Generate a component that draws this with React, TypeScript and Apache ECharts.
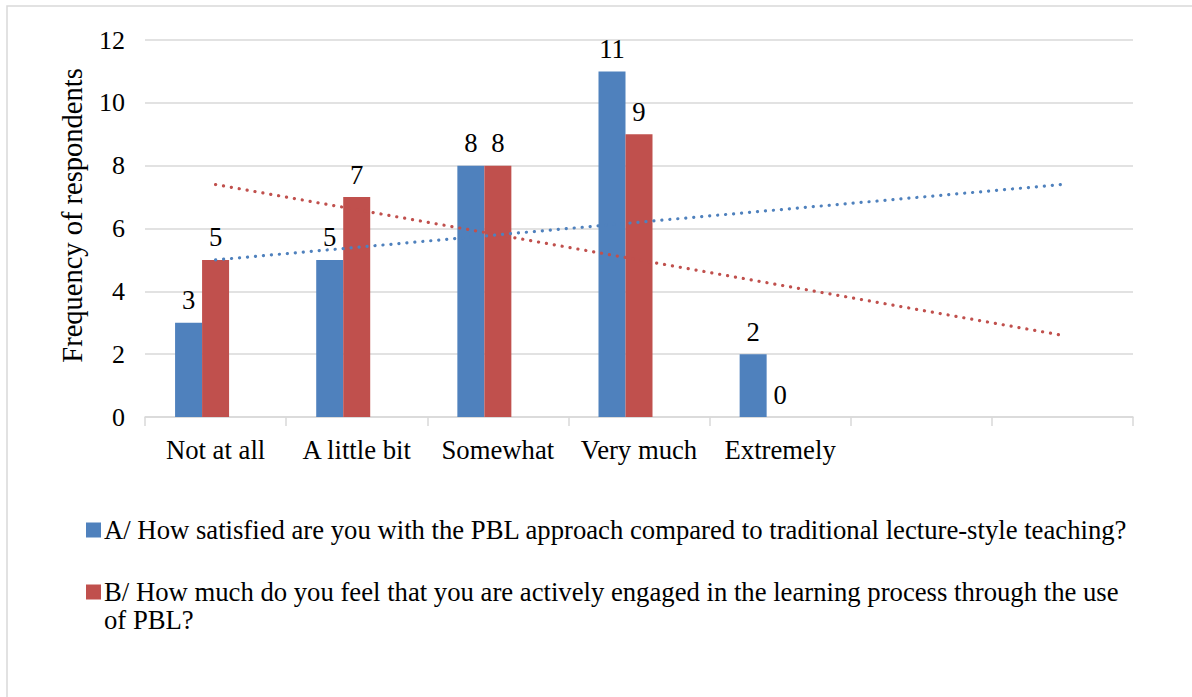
import React, { useEffect, useRef } from "react";
import * as echarts from "echarts";

const categories = ["Not at all", "A little bit", "Somewhat", "Very much", "Extremely", "", ""];
const seriesAValues = [3, 5, 8, 11, 2];
const seriesBValues = [5, 7, 8, 9, 0];
const seriesNames = [
  "A/ How satisfied are you with the PBL approach compared to traditional lecture-style teaching?",
  "B/ How much do you feel that you are actively engaged in the learning process through the use of PBL?",
];
// legend lines as wrapped in the reference
const legendLines = [
  ["A/ How satisfied are you with the PBL approach compared to traditional lecture-style teaching?"],
  ["B/ How much do you feel that you are actively engaged in the learning process through the use", "of PBL?"],
];
const yAxisTitle = "Frequency of respondents";
const yMin = 0;
const yMax = 12;
const yInterval = 2;

const BLUE = "#4F81BD";
const RED = "#C0504D";
const GRID = "#D9D9D9";
const FONT = "Liberation Serif";
const FS = 26.7;

// Excel-style linear trendline (least squares over x = 1..n), extended across all categories
function linearTrend(values: number[], length: number): number[] {
  const n = values.length;
  const xs = values.map((_, i) => i + 1);
  const mx = xs.reduce((a, b) => a + b, 0) / n;
  const my = values.reduce((a, b) => a + b, 0) / n;
  let num = 0;
  let den = 0;
  for (let i = 0; i < n; i++) {
    num += (xs[i] - mx) * (values[i] - my);
    den += (xs[i] - mx) * (xs[i] - mx);
  }
  const slope = num / den;
  const out: number[] = [];
  for (let i = 0; i < length; i++) out.push(+(my + slope * (i + 1 - mx)).toFixed(4));
  return out;
}

export default function App() {
  const ref = useRef<HTMLDivElement>(null);
  useEffect(() => {
    if (!ref.current) return;
    const chart = echarts.init(ref.current, undefined, { renderer: "svg" });
    const labelStyle = {
      show: true,
      position: "top" as const,
      distance: 9,
      color: "#000",
      fontFamily: FONT,
      fontSize: FS,
    };
    const dotted = (color: string) => ({
      color,
      width: 3.2,
      type: [0.1, 7.9],
      cap: "round" as const,
    });
    const legendColors = [BLUE, RED];
    const legendRowCenters = [530, 592];
    const legendLineHeight = 28;
    const legendGraphics: any[] = [];
    legendLines.forEach((lines, i) => {
      legendGraphics.push({
        type: "rect",
        silent: true,
        shape: { x: 86, y: legendRowCenters[i] - 7.5, width: 15, height: 15 },
        style: { fill: legendColors[i] },
      });
      lines.forEach((line, j) => {
        legendGraphics.push({
          type: "text",
          silent: true,
          x: 104,
          y: legendRowCenters[i] + j * legendLineHeight,
          style: {
            text: line,
            fill: "#000",
            font: `${FS}px "${FONT}", serif`,
            verticalAlign: "middle",
            align: "left",
          },
        });
      });
    });
    chart.setOption({
      animation: false,
      backgroundColor: "#fff",
      textStyle: { fontFamily: FONT },
      graphic: [
        {
          type: "rect",
          silent: true,
          z: -10,
          shape: { x: 7, y: 6, width: 1220, height: 720 },
          style: { fill: "none", stroke: GRID, lineWidth: 1.5 },
        },
        ...legendGraphics,
      ],
      grid: { left: 145, right: 59, top: 40, bottom: 280, containLabel: false },
      xAxis: {
        type: "category",
        data: categories,
        boundaryGap: true,
        axisLine: { show: true, lineStyle: { color: GRID, width: 1.5 } },
        axisTick: { show: true, length: 9, lineStyle: { color: GRID, width: 1.5 } },
        axisLabel: {
          color: "#000",
          fontFamily: FONT,
          fontSize: FS,
          margin: 19,
          interval: 0,
        },
      },
      yAxis: {
        type: "value",
        min: yMin,
        max: yMax,
        interval: yInterval,
        name: yAxisTitle,
        nameLocation: "middle",
        nameGap: 58,
        nameRotate: 90,
        nameTextStyle: {
          color: "#000",
          fontFamily: FONT,
          fontSize: 28.5,
          padding: [0, 0, 0, 26],
        },
        axisLine: { show: false },
        axisTick: { show: false },
        axisLabel: { color: "#000", fontFamily: FONT, fontSize: 26, margin: 20 },
        splitLine: { lineStyle: { color: GRID, width: 1.5 } },
      },
      series: [
        {
          name: seriesNames[0],
          type: "bar",
          data: seriesAValues,
          barWidth: 27,
          barGap: "0%",
          itemStyle: { color: BLUE },
          label: labelStyle,
          silent: true,
        },
        {
          name: seriesNames[1],
          type: "bar",
          data: seriesBValues,
          barWidth: 27,
          barGap: "0%",
          itemStyle: { color: RED },
          label: labelStyle,
          silent: true,
        },
        {
          name: "(empty)",
          type: "bar",
          data: [],
          barWidth: 27,
          barGap: "0%",
          silent: true,
        },
        {
          name: "Linear (A)",
          type: "line",
          data: linearTrend(seriesAValues, categories.length),
          showSymbol: false,
          symbol: "none",
          silent: true,
          lineStyle: dotted(BLUE),
          z: 3,
        },
        {
          name: "Linear (B)",
          type: "line",
          data: linearTrend(seriesBValues, categories.length),
          showSymbol: false,
          symbol: "none",
          silent: true,
          lineStyle: dotted(RED),
          z: 3,
        },
      ],
    });
    return () => chart.dispose();
  }, []);
  return (
    <div
      ref={ref}
      style={{ position: "fixed", left: 0, top: 0, width: 1192, height: 697 }}
    />
  );
}
